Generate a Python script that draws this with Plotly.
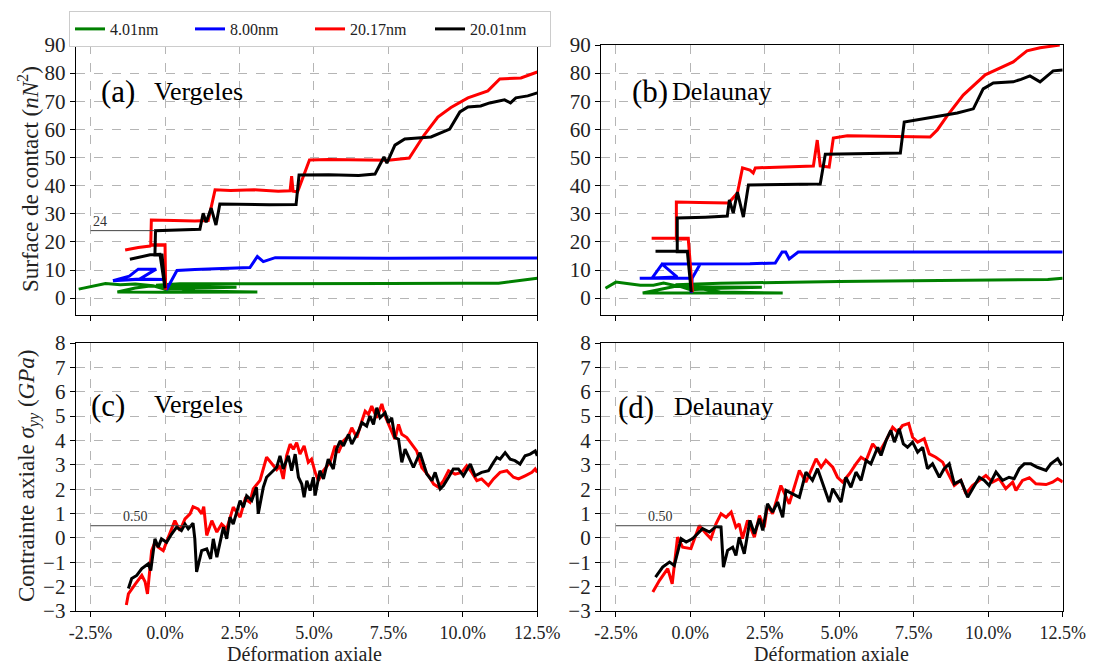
import plotly.graph_objects as go
from plotly.subplots import make_subplots

# ---- data (strain in %) ----
names = ["4.01nm", "8.00nm", "20.17nm", "20.01nm"]
colors = ["#008000", "#0000ff", "#ff0000", "#000000"]

# (a) Vergeles - contact surface
a_green_x = [-2.9, -2.0, -1.5, -1.0, -0.4, 0.0, 1.0, 2.4, 1.0, -0.5,
             -1.0, -1.6, 0.0, 1.5, 3.1, 1.0, -0.3, 0.5, 2.5, 5.0,
             7.5, 10.0, 11.2, 12.5]
a_green_y = [3.2, 5.2, 4.8, 5.0, 4.4, 3.2, 3.6, 3.9, 4.1, 4.3,
             3.6, 2.2, 2.1, 2.2, 2.2, 2.5, 4.6, 5.1, 5.2, 5.3,
             5.2, 5.3, 5.3, 7.1]
a_blue_x = [-1.75, -1.2, -0.9, -0.5, -0.3, -0.85, -1.75, -1.0, -0.5, 0.0,
            0.05, 0.4, 1.0, 2.0, 2.85, 3.1, 3.3, 3.7, 5.0, 7.5,
            10.0, 12.5]
a_blue_y = [6.2, 7.8, 10.3, 10.4, 10.3, 6.8, 6.2, 6.6, 6.7, 6.6,
            3.0, 9.8, 10.2, 10.5, 10.9, 14.8, 13.0, 14.4, 14.3, 14.2,
            14.3, 14.3]
a_red_x = [-1.34, -0.9, -0.5, -0.45, 0.0, 0.02, 0.0, -0.48, -0.46, 0.3,
           1.0, 1.45, 1.68, 2.2, 3.0, 3.8, 4.2, 4.25, 4.3, 4.45,
           4.85, 5.5, 6.5, 7.5, 8.2, 8.7, 9.16, 9.6, 10.17, 10.84,
           11.24, 11.95, 12.5]
a_red_y = [17.1, 18.0, 18.5, 19.1, 19.0, 3.0, 18.8, 18.8, 27.8, 27.6,
           27.4, 27.6, 38.5, 38.3, 38.5, 38.0, 38.2, 43.4, 38.0, 37.8,
           49.1, 49.3, 49.2, 49.0, 49.8, 58.0, 64.4, 67.8, 71.2, 73.7,
           77.9, 78.3, 80.4]
a_black_x = [-1.18, -0.5, -0.17, 0.0, -0.1, -0.34, -0.32, 0.5, 1.17, 1.28,
             1.38, 1.55, 1.71, 1.84, 2.5, 3.5, 4.4, 4.5, 5.5, 6.5,
             7.05, 7.35, 7.45, 7.72, 8.05, 8.93, 9.56, 9.9, 10.17, 10.6,
             10.9, 11.4, 11.6, 11.78, 12.18, 12.5]
a_black_y = [13.8, 15.4, 15.6, 3.5, 15.3, 15.3, 24.0, 24.2, 24.5, 30.2,
             27.0, 32.0, 26.0, 33.5, 33.3, 33.2, 33.3, 43.8, 43.9, 43.6,
             44.1, 50.2, 48.0, 54.4, 56.6, 57.3, 60.1, 66.2, 68.0, 68.3,
             69.4, 70.5, 69.4, 71.2, 71.9, 73.0]

# (b) Delaunay - contact surface
b_green_x = [-2.85, -2.5, -2.0, -1.68, -1.24, -0.9, -0.3, 0.0, 1.0, 2.4,
             0.5, -0.5, -1.6, 0.5, 3.1, 1.0, -0.5, 1.0, 2.5, 5.0,
             7.5, 10.0, 12.0, 12.5]
b_green_y = [3.5, 5.7, 5.0, 4.6, 4.6, 5.4, 4.0, 3.0, 3.5, 3.9,
             4.0, 4.2, 1.8, 1.9, 1.8, 2.2, 4.8, 5.3, 5.6, 5.9,
             6.2, 6.4, 6.6, 7.1]
b_blue_x = [-1.7, -1.28, -0.95, -0.44, -1.28, -1.7, -0.5, 0.06, 0.03, 0.06,
            0.33, -0.95, 0.33, 1.0, 2.0, 2.85, 3.08, 3.2, 3.32, 3.62,
            5.0, 7.5, 10.0, 12.5]
b_blue_y = [7.1, 7.2, 12.1, 7.5, 7.2, 7.1, 7.1, 7.1, 1.8, 7.1,
            12.1, 12.1, 12.1, 12.1, 12.2, 12.5, 16.4, 16.4, 13.9, 16.4,
            16.4, 16.4, 16.4, 16.4]
b_red_x = [-1.3, -0.7, -0.07, 0.07, -0.07, -0.47, -0.47, 0.3, 1.28, 1.58,
           1.75, 2.0, 2.11, 2.18, 3.0, 4.13, 4.26, 4.36, 4.66, 4.8,
           5.27, 6.5, 8.05, 8.29, 8.62, 9.16, 9.9, 10.84, 11.3, 11.74,
           12.4]
b_red_y = [21.3, 21.3, 21.3, 2.1, 21.0, 21.0, 34.2, 34.0, 33.8, 37.4,
           46.3, 45.5, 44.5, 46.3, 46.5, 47.0, 56.2, 47.0, 46.6, 56.9,
           57.7, 57.6, 57.3, 59.8, 64.8, 72.2, 79.4, 84.0, 87.9, 89.0,
           90.0]
b_black_x = [-1.17, -0.6, -0.1, 0.03, -0.1, -0.44, -0.44, 0.5, 1.24, 1.31,
             1.44, 1.58, 1.78, 1.95, 3.0, 4.36, 4.53, 5.5, 7.05, 7.18,
             8.0, 8.96, 9.5, 9.83, 10.17, 10.84, 11.1, 11.4, 11.74, 12.18,
             12.5]
b_black_y = [16.7, 16.8, 16.7, 2.1, 16.5, 16.5, 28.5, 28.8, 29.2, 34.9,
             30.2, 37.7, 28.8, 40.2, 40.3, 40.6, 51.2, 51.4, 51.6, 62.6,
             64.0, 65.8, 67.3, 74.4, 76.5, 76.9, 77.8, 79.0, 76.9, 80.8,
             81.1]

# (c) Vergeles - axial stress
c_red_x = [-1.3, -1.23, -1.0, -0.78, -0.67, -0.59, -0.45, -0.34, -0.23, -0.06,
           0.11, 0.33, 0.5, 0.67, 0.84, 0.94, 1.11, 1.23, 1.3, 1.4,
           1.57, 1.74, 1.9, 2.07, 2.29, 2.52, 2.69, 2.85, 2.96, 3.19,
           3.41, 3.75, 3.86, 3.97, 4.08, 4.2, 4.31, 4.42, 4.53, 4.67,
           4.81, 4.92, 5.04, 5.15, 5.32, 5.54, 5.71, 5.82, 5.99, 6.16,
           6.27, 6.44, 6.61, 6.72, 6.83, 6.94, 7.11, 7.28, 7.39, 7.56,
           7.72, 7.84, 7.95, 8.12, 8.28, 8.45, 8.62, 8.85, 9.02, 9.18,
           9.35, 9.52, 9.74, 9.96, 10.13, 10.3, 10.47, 10.63, 10.86, 11.03,
           11.25, 11.48, 11.7, 11.87, 12.09, 12.32, 12.43, 12.5]
c_red_y = [-2.75, -2.3, -1.9, -1.54, -1.8, -2.3, -0.52, -0.18, -0.38, -0.52,
           0.03, 0.71, 0.3, 0.78, 0.99, 1.28, 1.19, 0.99, 1.28, 0.1,
           0.71, 0.24, 0.57, 0.37, 1.26, 0.85, 1.6, 1.46, 2.01, 2.36,
           3.31, 2.8, 2.96, 2.42, 3.37, 3.85, 3.64, 3.91, 3.44, 3.78,
           3.1, 3.23, 2.69, 2.35, 2.76, 3.1, 3.78, 3.5, 3.98, 4.18,
           4.52, 4.12, 4.8, 5.2, 5.07, 5.41, 4.93, 5.5, 5.0, 4.52,
           4.05, 4.66, 4.25, 4.12, 3.85, 3.57, 2.89, 2.55, 2.21, 2.08,
           2.35, 2.76, 2.62, 2.69, 2.96, 2.69, 2.35, 2.42, 2.15, 2.42,
           2.69, 2.76, 2.49, 2.42, 2.55, 2.69, 2.83, 2.69]
c_black_x = [-1.23, -1.12, -0.95, -0.78, -0.56, -0.48, -0.34, -0.23, -0.12, 0.05,
             0.22, 0.39, 0.55, 0.67, 0.78, 0.94, 1.0, 1.06, 1.23, 1.4,
             1.53, 1.62, 1.74, 1.96, 2.07, 2.18, 2.29, 2.52, 2.63, 2.74,
             2.91, 3.07, 3.13, 3.3, 3.41, 3.75, 3.86, 3.97, 4.14, 4.25,
             4.37, 4.48, 4.59, 4.67, 4.76, 4.87, 4.98, 5.04, 5.2, 5.32,
             5.48, 5.65, 5.76, 5.88, 5.99, 6.16, 6.27, 6.5, 6.61, 6.77,
             6.88, 7.0, 7.11, 7.22, 7.39, 7.5, 7.61, 7.72, 7.84, 7.95,
             8.06, 8.17, 8.34, 8.56, 8.79, 8.96, 9.07, 9.24, 9.35, 9.52,
             9.68, 9.85, 10.02, 10.25, 10.41, 10.63, 10.86, 11.03, 11.14, 11.25,
             11.42, 11.59, 11.75, 11.92, 12.09, 12.26, 12.43, 12.5]
c_black_y = [-2.08, -1.67, -1.54, -1.26, -1.06, -1.34, -0.04, -0.38, -0.04, -0.18,
             0.16, 0.44, 0.3, 0.57, 0.37, 0.6, -0.04, -1.4, -0.52, -0.45,
             -0.86, -0.04, -0.79, 0.44, -0.04, 0.85, 0.57, 1.53, 1.26, 1.73,
             1.53, 2.08, 0.99, 2.08, 2.49, 2.9, 3.37, 2.83, 3.37, 2.76,
             3.44, 2.49, 2.21, 1.67, 2.35, 1.94, 2.49, 1.74, 2.76, 2.42,
             3.23, 2.83, 3.64, 3.98, 3.78, 4.25, 3.85, 4.39, 4.73, 4.59,
             5.0, 4.66, 5.34, 4.93, 5.14, 4.73, 4.93, 4.12, 4.05, 3.1,
             3.64, 3.37, 2.89, 3.5, 2.62, 2.35, 2.69, 2.01, 2.15, 2.49,
             2.83, 2.83, 2.55, 3.03, 2.55, 2.69, 2.76, 3.1, 3.3, 3.23,
             3.5, 3.23, 3.17, 3.03, 3.37, 3.44, 3.57, 3.37]

# (d) Delaunay - axial stress
d_red_x = [-1.26, -1.04, -0.76, -0.61, -0.43, -0.26, 0.02, 0.3, 0.53, 0.69,
           0.86, 1.03, 1.2, 1.37, 1.53, 1.64, 1.75, 1.92, 2.15, 2.32,
           2.48, 2.59, 2.76, 3.04, 3.32, 3.66, 3.88, 4.22, 4.39, 4.55,
           4.78, 4.94, 5.11, 5.34, 5.56, 5.73, 5.9, 6.12, 6.34, 6.57,
           6.79, 6.96, 7.12, 7.33, 7.46, 7.63, 7.85, 8.02, 8.24, 8.47,
           8.63, 8.86, 9.08, 9.25, 9.47, 9.7, 9.92, 10.14, 10.37, 10.59,
           10.82, 10.93, 11.15, 11.38, 11.6, 11.94, 12.16, 12.33, 12.44, 12.5]
d_red_y = [-2.22, -1.75, -1.26, -1.88, 0.03, -0.38, -0.44, 0.51, 0.17, -0.03,
           0.58, 0.99, 0.85, 1.06, 0.44, 0.58, -0.03, 0.72, 0.03, 0.92,
           0.44, 1.33, 0.99, 2.15, 1.4, 2.77, 2.29, 3.25, 2.9, 3.18,
           2.9, 2.49, 2.29, 2.63, 3.04, 3.31, 3.18, 3.86, 3.52, 4.0,
           4.54, 4.34, 4.61, 4.7, 4.13, 3.93, 4.07, 3.45, 3.31, 3.11,
           2.7, 2.15, 2.36, 1.81, 2.15, 2.36, 2.56, 2.29, 2.43, 2.02,
           2.29, 1.95, 2.36, 2.47, 2.22, 2.19, 2.29, 2.43, 2.36, 2.3]
d_black_x = [-1.17, -0.93, -0.7, -0.54, -0.31, -0.14, 0.08, 0.41, 0.64, 0.86,
             1.03, 1.11, 1.25, 1.42, 1.53, 1.64, 1.81, 2.0, 2.15, 2.32,
             2.43, 2.59, 2.76, 2.93, 3.1, 3.21, 3.43, 3.66, 3.88, 4.1,
             4.27, 4.44, 4.55, 4.66, 4.78, 4.94, 5.06, 5.22, 5.39, 5.56,
             5.73, 5.9, 6.06, 6.29, 6.4, 6.57, 6.73, 6.85, 7.01, 7.15,
             7.29, 7.46, 7.63, 7.8, 7.96, 8.13, 8.36, 8.52, 8.69, 8.86,
             9.08, 9.31, 9.47, 9.7, 9.87, 10.03, 10.26, 10.48, 10.7, 10.87,
             11.04, 11.21, 11.43, 11.65, 11.94, 12.1, 12.33, 12.47]
d_black_y = [-1.61, -1.2, -0.99, -1.13, -0.03, -0.17, -0.03, 0.38, 0.24, 0.47,
             0.44, -1.2, -0.51, -0.38, -0.72, 0.03, -0.65, 0.72, 0.17, 0.79,
             0.31, 1.4, 1.06, 1.47, 0.85, 1.95, 1.81, 1.67, 2.7, 2.36,
             2.84, 2.22, 1.81, 1.47, 2.02, 1.67, 1.47, 2.49, 2.08, 2.7,
             2.36, 3.18, 3.04, 3.72, 3.38, 4.0, 4.41, 3.93, 4.48, 3.86,
             3.72, 3.93, 3.52, 3.72, 2.84, 3.04, 2.49, 2.84, 3.04, 2.22,
             2.36, 1.67, 2.02, 2.49, 2.36, 2.15, 2.7, 2.36, 2.49, 2.43,
             2.84, 3.04, 3.04, 2.9, 2.77, 3.04, 3.25, 2.97]

x_ticks = [-2.5, 0.0, 2.5, 5.0, 7.5, 10.0, 12.5]
x_tick_text = ["-2.5%", "0.0%", "2.5%", "5.0%", "7.5%", "10.0%", "12.5%"]
top_ticks = [0, 10, 20, 30, 40, 50, 60, 70, 80, 90]
bot_ticks = [-3, -2, -1, 0, 1, 2, 3, 4, 5, 6, 7, 8]
bot_tick_text = ["\u22123", "\u22122", "\u22121", "0", "1", "2", "3", "4", "5", "6", "7", "8"]

ref_surface = 24       # marked level on panel (a)
ref_surface_end = -0.34
ref_stress = 0.50      # marked level on panels (c), (d)
ref_stress_end_c = 0.87
ref_stress_end_d = 1.07

FONT = "Liberation Serif"
W, H = 1093, 664

fig = make_subplots(rows=2, cols=2)

panels = [
    (1, 1, [(a_green_x, a_green_y), (a_blue_x, a_blue_y), (a_red_x, a_red_y), (a_black_x, a_black_y)]),
    (1, 2, [(b_green_x, b_green_y), (b_blue_x, b_blue_y), (b_red_x, b_red_y), (b_black_x, b_black_y)]),
    (2, 1, [None, None, (c_red_x, c_red_y), (c_black_x, c_black_y)]),
    (2, 2, [None, None, (d_red_x, d_red_y), (d_black_x, d_black_y)]),
]
for r, c, series in panels:
    for i, s in enumerate(series):
        if s is None:
            continue
        fig.add_trace(go.Scatter(x=s[0], y=s[1], mode="lines", name=names[i],
                                 line=dict(color=colors[i], width=3),
                                 showlegend=(r == 1 and c == 1)),
                      row=r, col=c)

# panel geometry in pixels -> paper fractions
x_dom = [[75.7 / W, 537.3 / W], [601 / W, 1062.7 / W]]
y_dom = [[1 - 315 / H, 1 - 45 / H], [1 - 611 / H, 1 - 343 / H]]

axis_common = dict(showline=True, linecolor="black", linewidth=1.2, mirror=True,
                   ticks="outside", ticklen=5, tickcolor="black",
                   showgrid=True, gridcolor="#b5b5b5", griddash="dash", gridwidth=1,
                   zeroline=False, automargin=False)
y_font = dict(family=FONT, size=21, color="#222")
x_font = dict(family=FONT, size=18, color="#222")

for r in (1, 2):
    for c in (1, 2):
        fig.update_xaxes(axis_common, range=[-3, 12.5], tickvals=x_ticks, ticktext=x_tick_text,
                         tickfont=x_font, showticklabels=(r == 2), domain=x_dom[c - 1], row=r, col=c)
        if r == 1:
            fig.update_yaxes(axis_common, range=[-6, 90], tickvals=top_ticks, tickfont=y_font,
                             domain=y_dom[0], row=r, col=c)
        else:
            fig.update_yaxes(axis_common, range=[-3, 8], tickvals=bot_ticks, ticktext=bot_tick_text,
                             tickfont=y_font, domain=y_dom[1], row=r, col=c)

# reference lines
ref_line = dict(color="#444", width=1)
fig.add_shape(type="line", x0=-2.5, x1=ref_surface_end, y0=ref_surface, y1=ref_surface,
              line=ref_line, xref="x", yref="y")
fig.add_shape(type="line", x0=-2.5, x1=ref_stress_end_c, y0=ref_stress, y1=ref_stress,
              line=ref_line, xref="x3", yref="y3")
fig.add_shape(type="line", x0=-2.5, x1=ref_stress_end_d, y0=ref_stress, y1=ref_stress,
              line=ref_line, xref="x4", yref="y4")

small = dict(family=FONT, size=14, color="#333")
annots = [
    dict(x=-2.48, y=ref_surface, xref="x", yref="y", text="24", xanchor="left", yanchor="bottom", font=small),
    dict(x=-1.0, y=ref_stress, xref="x3", yref="y3", text="0.50", xanchor="center", yanchor="bottom", font=small),
    dict(x=-1.0, y=ref_stress, xref="x4", yref="y4", text="0.50", xanchor="center", yanchor="bottom", font=small),
]
# panel labels (pixel positions)
for tag, name, tx, nx, ty in [("(a)", "Vergeles", 99, 152, 92), ("(b)", "Delaunay", 630, 670, 92),
                              ("(c)", "Vergeles", 89, 152, 405), ("(d)", "Delaunay", 616, 672, 407)]:
    annots.append(dict(x=tx / W, y=1 - ty / H, xref="paper", yref="paper", text=tag,
                       xanchor="left", yanchor="middle",
                       font=dict(family=FONT, size=31, color="black")))
    annots.append(dict(x=nx / W, y=1 - (ty - 1) / H, xref="paper", yref="paper", text=name,
                       xanchor="left", yanchor="middle",
                       font=dict(family=FONT, size=26, color="black")))
# axis titles
title_font = dict(family=FONT, size=23, color="#222")
annots.append(dict(x=28 / W, y=1 - 179 / H, xref="paper", yref="paper", textangle=-90,
                   text="Surface de contact (<i>nN</i><sup>2</sup>)",
                   xanchor="center", yanchor="middle", font=title_font))
annots.append(dict(x=28 / W, y=1 - 476 / H, xref="paper", yref="paper", textangle=-90,
                   text="Contrainte axiale <i>\u03c3</i><sub><i>yy</i></sub> (<i>GPa</i>)",
                   xanchor="center", yanchor="middle", font=title_font))
for cx in (304, 831):
    annots.append(dict(x=cx / W, y=1 - 654 / H, xref="paper", yref="paper",
                       text="Déformation axiale",
                       xanchor="center", yanchor="middle", font=dict(family=FONT, size=20, color="#222")))
for a in annots:
    a["showarrow"] = False
fig.update_layout(annotations=annots)

fig.update_layout(
    width=W, height=H,
    margin=dict(l=0, r=0, t=0, b=0),
    plot_bgcolor="white", paper_bgcolor="white",
    font=dict(family=FONT, color="#222"),
    legend=dict(orientation="h", x=69 / W, y=1 - 11 / H, xanchor="left", yanchor="top",
                bordercolor="#cccccc", borderwidth=1, bgcolor="white",
                font=dict(family=FONT, size=16, color="#222"),
                entrywidth=75, entrywidthmode="pixels", tracegroupgap=0),
)

fig.write_html("out.html", config={"displayModeBar": False},
               post_script="document.body.style.margin='0px';")
